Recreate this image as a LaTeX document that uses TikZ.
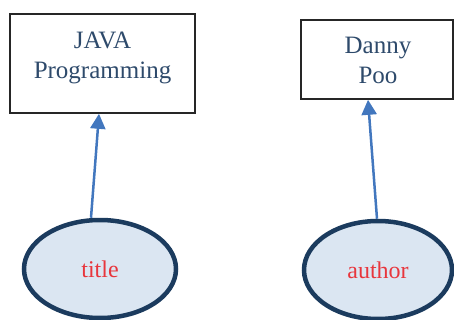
\documentclass[tikz,border=0pt]{standalone}
\usepackage{fontspec}
\setmainfont{Liberation Serif}
\usetikzlibrary{arrows.meta,shapes.geometric}
\definecolor{boxtxt}{HTML}{2E4A6B}
\definecolor{ellline}{HTML}{1B3B5E}
\definecolor{ellfill}{HTML}{DBE6F2}
\definecolor{redtxt}{HTML}{E8363D}
\definecolor{arrowblue}{HTML}{4277BE}
\tikzset{
  boxframe/.style={draw=black!85, line width=1.6pt, rectangle, inner sep=0pt},
  boxtext/.style={text=boxtxt, align=center, font=\fontsize{25}{30}\selectfont, inner sep=0pt},
  attr/.style={ellipse, draw=ellline, line width=4.5pt, fill=ellfill, text=redtxt,
    font=\fontsize{24}{28}\selectfont, inner sep=0pt},
  link/.style={draw=arrowblue, line width=2.5pt, -{Triangle[width=15pt,length=15pt]}}
}
\begin{document}
\begin{tikzpicture}[x=1pt,y=-1pt]
\useasboundingbox (0,0) rectangle (454,320);
\node[boxframe, minimum width=185pt, minimum height=99pt] (java) at (102.5,63.5) {};
\node[boxtext] (javatxt) at (102.5,57.5) {JAVA\\Programming};
\node[boxframe, minimum width=152pt, minimum height=79pt] (danny) at (377,59.5) {};
\node[boxtext] (dannytxt) at (378,60) {Danny\\Poo};
\node[attr, minimum width=152pt, minimum height=98pt] (title) at (100,269) {title};
\node[attr, minimum width=148pt, minimum height=98pt] (author) at (378,270) {author};
\draw[link] ([xshift=-9pt]title.north) -- ([xshift=-3.5pt]java.south);
\draw[link] ([xshift=-1pt]author.north) -- ([xshift=-9pt]danny.south);
\end{tikzpicture}
\end{document}
